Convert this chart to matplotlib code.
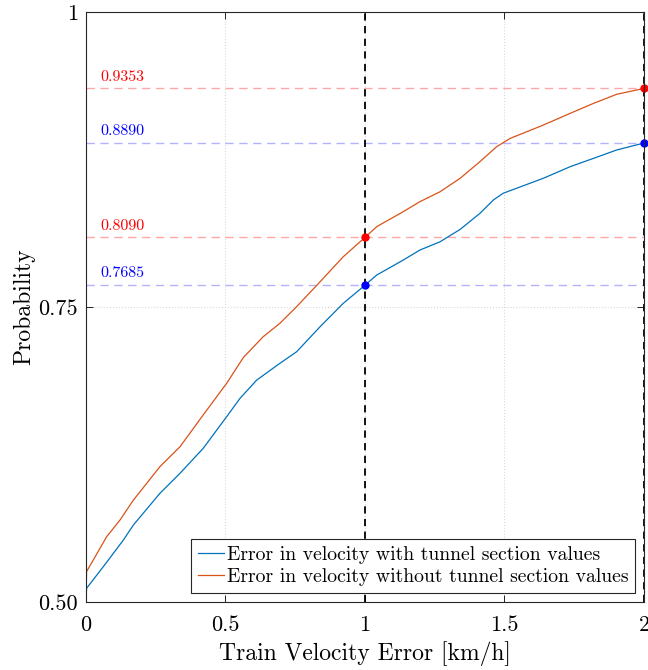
import matplotlib as mpl
mpl.use('Agg')
import numpy as np
import matplotlib.pyplot as plt

mpl.rcParams.update({
    'font.family': 'serif',
    'font.serif': ['cmr10'],
    'mathtext.fontset': 'cm',
    'axes.formatter.use_mathtext': True,
    'axes.unicode_minus': False,
})

# CDF curves
x_with = [0, 0.002, 0.062, 0.134, 0.170, 0.265, 0.337, 0.420, 0.504, 0.552, 0.612,
          0.695, 0.755, 0.839, 0.922, 1.0, 1.042, 1.137, 1.197, 1.269, 1.341,
          1.412, 1.460, 1.495, 1.639, 1.735, 1.819, 1.902, 2.0]
y_with = [0.500, 0.5116, 0.5299, 0.5525, 0.5653, 0.5921, 0.6091, 0.6302, 0.6570,
          0.6726, 0.6881, 0.7023, 0.7121, 0.7333, 0.7531, 0.7685, 0.7771, 0.7898,
          0.7983, 0.8053, 0.8158, 0.8294, 0.8407, 0.8464, 0.8591, 0.8689, 0.8760,
          0.8831, 0.8890]

x_without = [0, 0.002, 0.074, 0.122, 0.170, 0.265, 0.337, 0.420, 0.504, 0.564,
             0.635, 0.695, 0.755, 0.839, 0.922, 1.0, 1.042, 1.137, 1.197, 1.269,
             1.341, 1.412, 1.472, 1.520, 1.639, 1.735, 1.819, 1.902, 2.0]
y_without = [0.500, 0.5257, 0.5553, 0.5695, 0.5864, 0.6147, 0.6316, 0.6585, 0.6853,
             0.7072, 0.7248, 0.7362, 0.7503, 0.7714, 0.7926, 0.8090, 0.8181, 0.8308,
             0.8393, 0.8477, 0.8591, 0.8732, 0.8859, 0.8929, 0.9042, 0.9141, 0.9226,
             0.9303, 0.9353]

mark_x = [1, 2]
mark_with = [0.7685, 0.8890]
mark_without = [0.8090, 0.9353]

blue = '#0072BD'
orange = '#D95319'

fig = plt.figure(figsize=(6.48, 6.70), dpi=100)
ax = fig.add_axes([0.1327, 0.1015, 0.8611, 0.8805])

ax.grid(True, color='#d9d9d9', linestyle=':', linewidth=0.8)
ax.set_axisbelow(True)

for v in mark_without:
    ax.axhline(v, color=(1, 0, 0, 0.35), linestyle=(0, (6, 4)), linewidth=1.0)
    ax.text(0.05, v + 0.004, '%.4f' % v, color='red', fontsize=11.5, va='bottom')
for v in mark_with:
    ax.axhline(v, color=(0, 0, 1, 0.3), linestyle=(0, (6, 4)), linewidth=1.0)
    ax.text(0.05, v + 0.004, '%.4f' % v, color='blue', fontsize=11.5, va='bottom')

for v in mark_x:
    ax.axvline(v, color='black', linestyle=(0, (4, 3)), linewidth=1.3)

ax.plot(x_with, y_with, color=blue, linewidth=0.9,
        label='Error in velocity with tunnel section values')
ax.plot(x_without, y_without, color=orange, linewidth=0.9,
        label='Error in velocity without tunnel section values')
ax.plot(mark_x, mark_with, 'o', color='blue', markersize=5, clip_on=False)
ax.plot(mark_x, mark_without, 'o', color='red', markersize=5, clip_on=False)

ax.set_xlim(0, 2)
ax.set_ylim(0.5, 1)
ax.set_xticks([0, 0.5, 1, 1.5, 2])
ax.set_xticklabels(['0', '0.5', '1', '1.5', '2'])
ax.set_yticks([0.5, 0.75, 1])
ax.set_yticklabels(['0.50', '0.75', '1'])
ax.tick_params(direction='in', top=True, right=True, labelsize=16, length=5,
               width=0.6)
ax.tick_params(axis='x', pad=10)
ax.tick_params(axis='y', pad=6)
for s in ax.spines.values():
    s.set_linewidth(0.8)
    s.set_color('#262626')

ax.set_xlabel('Train Velocity Error [km/h]', fontsize=17, labelpad=4)
ax.set_ylabel('Probability', fontsize=17, labelpad=2)

leg = ax.legend(loc='lower right', fontsize=14.2, handlelength=1.3,
                handletextpad=0.15, borderpad=0.35, labelspacing=0.2,
                fancybox=False, framealpha=1, borderaxespad=0.45)
leg.get_frame().set_edgecolor('#262626')
leg.get_frame().set_linewidth(0.8)

plt.savefig('out.png', dpi=100)
